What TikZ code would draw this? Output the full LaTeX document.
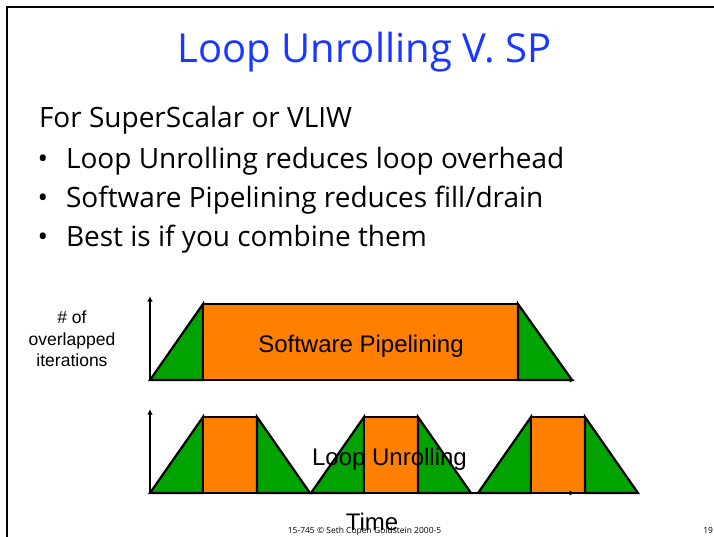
\documentclass[tikz,border=0pt]{standalone}
\usepackage{fontspec}
\setmainfont{Liberation Sans}
\newfontfamily\comic{Open Sans}
\usetikzlibrary{arrows.meta}
\definecolor{orng}{RGB}{255,128,0}
\definecolor{grn}{RGB}{0,163,0}
\definecolor{ttl}{RGB}{25,55,255}
\begin{document}
\begin{tikzpicture}[x=1pt,y=-1pt,
  every node/.style={inner sep=0pt,outer sep=0pt},
  piece/.style={draw=black,line width=2.2pt,line join=miter},
  axis/.style={line width=1.8pt,-{Latex[length=5.5pt,width=5.5pt]}},
  titletext/.style={font=\comic\fontsize{40}{48}\selectfont,text=ttl,anchor=base},
  bodytext/.style={font=\comic\fontsize{28}{34}\selectfont,anchor=base west},
  bullet/.style={font=\comic\fontsize{28}{34}\selectfont,anchor=base},
  arial/.style={font=\fontsize{24}{28}\selectfont,anchor=base},
  ylab/.style={font=\fontsize{17.5}{21}\selectfont,anchor=base},
  foot/.style={font=\comic\fontsize{8.5}{10}\selectfont,anchor=base}]
\useasboundingbox (0,0) rectangle (714,536);
\fill[white] (0,0) rectangle (714,536);
\draw[line width=2pt] (7,537) -- (7,7) -- (715,7);

% title and text
\node[titletext] (title) at (364.5,62) {Loop Unrolling V. SP};
\node[bodytext] (intro) at (39,127) {For SuperScalar or VLIW};
\node[bullet] (d1) at (43,168) {•};
\node[bodytext] (b1) at (66,168) {Loop Unrolling reduces loop overhead};
\node[bullet] (d2) at (43,207) {•};
\node[bodytext] (b2) at (66,207) {Software Pipelining reduces fill/drain};
\node[bullet] (d3) at (43,246) {•};
\node[bodytext] (b3) at (66,246) {Best is if you combine them};

% y label
\node[ylab] (yl1) at (72,323) {\# of};
\node[ylab] (yl2) at (72,345) {overlapped};
\node[ylab] (yl3) at (72,366) {iterations};

% software pipelining diagram
\filldraw[piece,fill=grn] (150,380) -- (203,304) -- (203,380) -- cycle;
\filldraw[piece,fill=orng] (203,304) rectangle (518,380);
\filldraw[piece,fill=grn] (518,304) -- (572,380) -- (518,380) -- cycle;
\coordinate (o1) at (150,380);
\coordinate (y1) at (150,296);
\coordinate (x1) at (575,380);
\draw[axis] (o1) -- (y1);
\draw[axis] (o1) -- (x1);
\node[arial] (sp) at (361,352) {Software Pipelining};

% loop unrolling diagram
\foreach \s in {150,311,478}{
  \filldraw[piece,fill=grn] (\s,493) -- (\s+53,417) -- (\s+53,493) -- cycle;
  \filldraw[piece,fill=orng] (\s+53,417) rectangle (\s+107,493);
  \filldraw[piece,fill=grn] (\s+107,417) -- (\s+160,493) -- (\s+107,493) -- cycle;
}
\coordinate (o2) at (150,493);
\coordinate (y2) at (150,409);
\coordinate (x2) at (575,493);
\draw[axis] (o2) -- (y2);
\draw[axis] (o2) -- (x2);
\node[arial] (lu) at (389.5,465) {Loop Unrolling};

% footer
\node[foot] (ft) at (364.5,533) {15-745 © Seth Copen Goldstein 2000-5};
\node[foot,anchor=base east] (pg) at (713,533) {19};
\node[arial] (time) at (372,530) {Time};
\end{tikzpicture}
\end{document}
